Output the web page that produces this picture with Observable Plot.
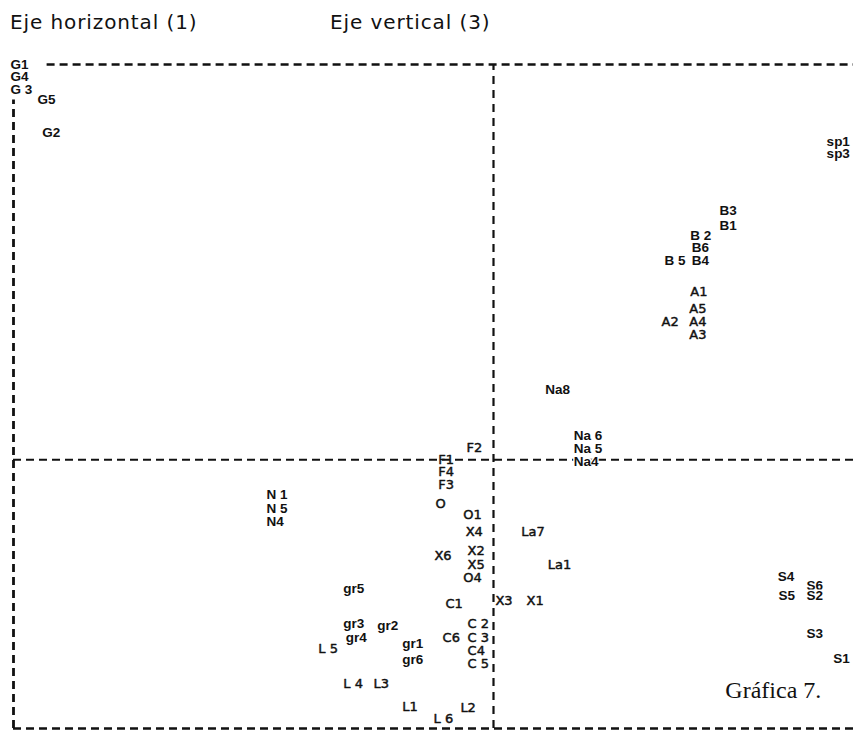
<!DOCTYPE html>
<html>
<head>
<meta charset="utf-8">
<script src="https://cdn.jsdelivr.net/npm/d3@7"></script>
<script src="https://cdn.jsdelivr.net/npm/@observablehq/plot@0.6"></script>
<style>
  html, body { margin: 0; padding: 0; background: #fff; }
  #header { position: relative; height: 50px; width: 853px; font-family: "DejaVu Sans", sans-serif; font-size: 20px; line-height: 1; letter-spacing: 0.9px; color: #111; }
  #header span { position: absolute; top: 12px; white-space: nowrap; }
  g[aria-label="labels"] text { letter-spacing: 1.2px; }
  g[aria-label="labels-bold"] text { letter-spacing: 1.4px; }
</style>
</head>
<body>
<div id="header"><span id="t1" style="left:10px"></span><span id="t2" style="left:330px"></span></div>
<div id="chart"></div>
<script>
const titleH = "Eje horizontal (1)";
const titleV = "Eje vertical (3)";
const caption = "Gráfica 7.";

const labels = ["G1","G4","G 3","G5","G2","sp1","sp3",
  "B3","B1","B 2","B6","B 5","B4",
  "A1","A5","A2","A4","A3",
  "Na8","Na 6","Na 5","Na4",
  "F2","F1","F4","F3","O",
  "N 1","N 5","N4",
  "O1","X4","La7","X6","X2","X5","O4","La1",
  "gr5","C1","X3","X1",
  "S4","S6","S5","S2",
  "gr3","gr2","C 2","gr4","C6","C 3","L 5","gr1","C4","gr6","C 5",
  "S3","S1","L 4","L3","L1","L2","L 6"];
const xs = [-100.6,-100.6,-100.6,-95.0,-94.0,69.4,69.4,
  47.1,47.1,41.0,41.3,35.6,41.3,
  41.0,40.8,35.0,40.8,40.8,
  10.8,16.7,16.7,16.7,
  -5.6,-11.5,-11.5,-11.5,-12.1,
  -47.3,-47.3,-47.3,
  -6.3,-5.8,5.8,-12.3,-5.4,-5.4,-6.3,11.3,
  -31.3,-10.0,0.4,6.9,
  59.2,65.2,59.4,65.2,
  -31.3,-24.2,-5.4,-30.8,-10.6,-5.4,-36.5,-19.0,-5.4,-19.0,-5.4,
  65.2,70.8,-31.3,-25.0,-19.0,-6.9,-12.5];
const ys = [100.0,97.0,93.7,91.1,82.8,80.5,77.5,
  63.1,59.3,56.7,53.7,50.4,50.4,
  42.6,38.3,35.0,35.0,31.7,
  17.8,6.1,2.8,-0.5,
  3.1,0.0,-3.0,-6.3,-11.1,
  -8.8,-12.3,-15.6,
  -13.9,-18.2,-18.2,-24.2,-23.0,-26.5,-29.8,-26.5,
  -32.6,-36.4,-35.6,-35.6,
  -29.6,-31.8,-34.4,-34.4,
  -41.4,-42.0,-41.4,-45.0,-45.0,-45.0,-47.8,-46.5,-48.3,-50.6,-51.6,
  -44.0,-50.3,-56.6,-56.6,-62.5,-62.7,-65.5];

const boldGroups = ["G","sp","B","Na","N","gr","S"];
const data = labels.map((label, i) => ({
  label, x: xs[i], y: ys[i],
  bold: boldGroups.includes(label.replace(/[\s\d]/g, ""))
}));
const regular = data.filter(d => !d.bold);
const bold = data.filter(d => d.bold);

const xDomain = [-100, 75];
const yDomain = [-68, 100];

document.getElementById("t1").textContent = titleH;
document.getElementById("t2").textContent = titleV;

const dash = {stroke: "#111", strokeWidth: 2.3, strokeDasharray: "8,5"};

const plot = Plot.plot({
  width: 853,
  height: 681,
  marginLeft: 13,
  marginRight: 0,
  marginTop: 14,
  marginBottom: 3,
  x: {domain: xDomain, axis: null},
  y: {domain: yDomain, axis: null},
  style: {fontFamily: "'Liberation Sans', Arial, sans-serif", background: "#fff", overflow: "visible"},
  marks: [
    Plot.ruleY([yDomain[1]], {x1: -93, x2: xDomain[1], ...dash}),
    Plot.ruleY([yDomain[0]], {x1: xDomain[0], x2: xDomain[1], ...dash}),
    Plot.ruleY([0], {x1: xDomain[0], x2: xDomain[1], ...dash, strokeWidth: 2}),
    Plot.ruleX([xDomain[0]], {y1: yDomain[0], y2: 91, ...dash, strokeWidth: 2.8}),
    Plot.ruleX([0], {y1: yDomain[0], y2: yDomain[1], ...dash, strokeWidth: 2.2, strokeDasharray: "8,6"}),
    Plot.text(regular, {x: "x", y: "y", text: "label", textAnchor: "start", lineAnchor: "middle",
      fontSize: 13, fontWeight: "normal", fontFamily: "'DejaVu Sans', sans-serif",
      fill: "#111", stroke: "#111", strokeWidth: 0.45, ariaLabel: "labels"}),
    Plot.text(bold, {x: "x", y: "y", text: "label", textAnchor: "start", lineAnchor: "middle",
      fontSize: 13.5, fontWeight: "bold", fill: "#111", stroke: "white", strokeWidth: 3, ariaLabel: "labels-bold"}),
    Plot.text([caption], {x: () => 48.3, y: () => -58.4, text: d => d, textAnchor: "start", lineAnchor: "middle",
      fontSize: 24, fontFamily: "'Liberation Serif', 'Times New Roman', serif", fill: "#111"})
  ]
});
document.getElementById("chart").appendChild(plot);
</script>
</body>
</html>
